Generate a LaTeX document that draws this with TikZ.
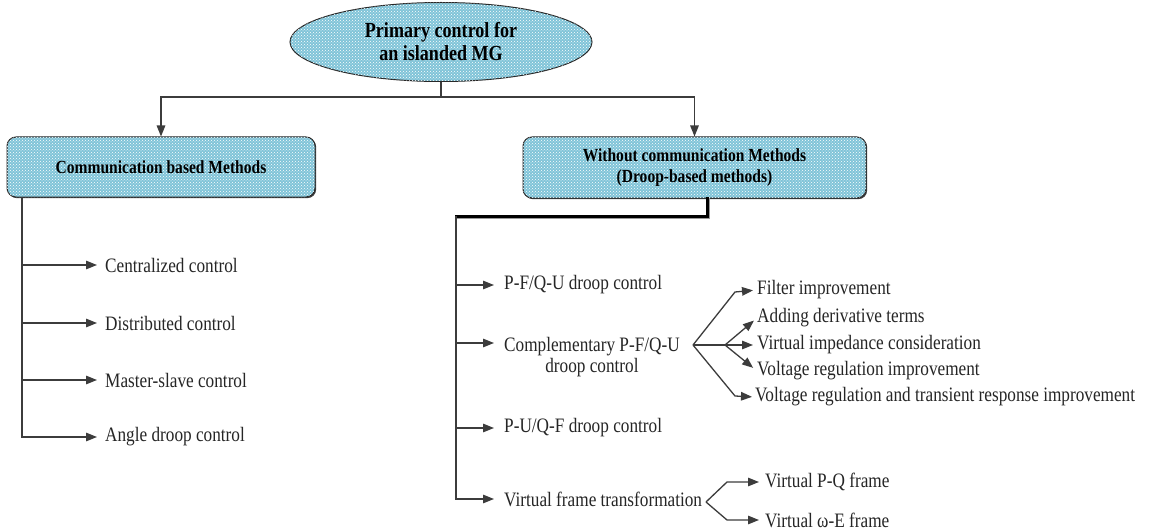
\documentclass[tikz,border=0pt]{standalone}
\usepackage{fontspec}
\setmainfont{Liberation Serif}[FakeStretch=0.84]
\usetikzlibrary{arrows.meta,shapes.geometric,patterns,shadows}
\definecolor{ink}{RGB}{60,60,60}
\definecolor{cellblue}{RGB}{128,196,216}
\begin{document}
\begin{tikzpicture}[x=1pt,y=-1pt,
  link/.style={draw=ink, line width=1.3pt},
  arr/.style={link, -{Triangle[length=11pt,width=8.5pt]}},
  cellfill/.style={fill=cellblue, postaction={pattern=crosshatch dots, pattern color=white}},
  bx/.style={rectangle, rounded corners=9pt, draw=black!85, line width=1pt, cellfill,
    drop shadow={shadow xshift=1.2pt, shadow yshift=-1.2pt, fill=black!75, opacity=1},
    font=\fontsize{18.5}{21}\selectfont\bfseries, align=center, inner sep=0pt},
  leaf/.style={anchor=west, inner xsep=0pt, inner ysep=1pt,
    font=\fontsize{20.5}{21}\selectfont, text=black!85}
]
\useasboundingbox[fill=white] (0,0) rectangle (1149,532);

% top level
\node[ellipse, draw=black!85, line width=1pt, cellfill, minimum width=302pt, minimum height=79pt,
  inner sep=0pt, align=center, font=\fontsize{21.5}{23}\selectfont\bfseries] (root) at (441,42)
  {Primary control for\\an islanded MG};

\node[bx, minimum width=308pt, minimum height=60pt] (comm) at (161,167) {Communication based Methods};
\node[bx, minimum width=343pt, minimum height=61pt] (wo) at (694.5,167.5)
  {Without communication Methods\\(Droop-based methods)};

\coordinate (j) at (441,97);
\draw[link] (root.south) -- (j);
\draw[arr] (j) -| (comm.north);
\draw[arr] (j) -| (wo.north);

% communication based branch
\coordinate (lt) at (22,197);
\node[leaf] (c1) at (105,265) {Centralized control};
\node[leaf] (c2) at (105,323) {Distributed control};
\node[leaf] (c3) at (105,380) {Master-slave control};
\node[leaf] (c4) at (105,437) {Angle droop control};
\foreach \n in {c1,c2,c3,c4}
  \draw[arr, shorten >=8pt] (lt) |- (\n.west);

% droop based branch
\coordinate (ws) at (707,198);
\coordinate (wk) at (707,216);
\coordinate (rt) at (456,216);
\draw[black!40, line width=2pt, line cap=rect] ([shift={(2.2,1)}]ws) -- ([shift={(2.2,2.4)}]wk) -- ([shift={(0,2.4)}]rt);
\draw[black, line width=3pt, line cap=rect] (ws) -- (wk) -- (rt);

\node[leaf] (d1) at (504,285) {P-F/Q-U droop control};
\node[leaf, align=center] (comp) at (504,357) {Complementary P-F/Q-U\\droop control};
\node[leaf] (d3) at (504,428) {P-U/Q-F droop control};
\node[leaf] (d4) at (504,499) {Virtual frame transformation};
\coordinate (b2) at (456,343);
\draw[arr, shorten >=10pt] (rt) |- (d1.west);
\draw[arr, shorten >=10pt] (rt) |- (b2 -| comp.west);
\draw[arr, shorten >=10pt] (rt) |- (d3.west);
\draw[arr, shorten >=10pt] (rt) |- (d4.west);

% refinements of the complementary droop
\node[leaf] (filt) at (757,290) {Filter improvement};
\node[leaf] (add)  at (757,318) {Adding derivative terms};
\node[leaf] (vimp) at (757,345) {Virtual impedance consideration};
\node[leaf] (vreg) at (757,371) {Voltage regulation improvement};
\node[leaf] (vtr)  at (755,397) {Voltage regulation and transient response improvement};
\coordinate (f0) at (693,345);
\coordinate (f1) at (725,345);
\coordinate (fu) at (735,292);
\coordinate (fd) at (735,396);
\draw[arr, shorten >=4pt] (f0) -- (fu) -- (filt.west);
\draw[arr, shorten >=4pt] (f1) -- (add.west);
\draw[arr, shorten >=4pt] (f0) -- (vimp.west);
\draw[arr, shorten >=5pt] (f1) -- (vreg.west);
\draw[arr, shorten >=3pt] (f0) -- (fd) -- (vtr.west);

% virtual frames
\node[leaf] (vpq) at (765,482) {Virtual P-Q frame};
\node[leaf] (vwe) at (765,520) {Virtual ω-E frame};
\coordinate (g0) at (706,502);
\coordinate (gu) at (727,482);
\coordinate (gd) at (727,520);
\draw[arr, shorten >=6pt] (g0) -- (gu) -- (vpq.west);
\draw[arr, shorten >=6pt] (g0) -- (gd) -- (vwe.west);
\end{tikzpicture}
\end{document}
